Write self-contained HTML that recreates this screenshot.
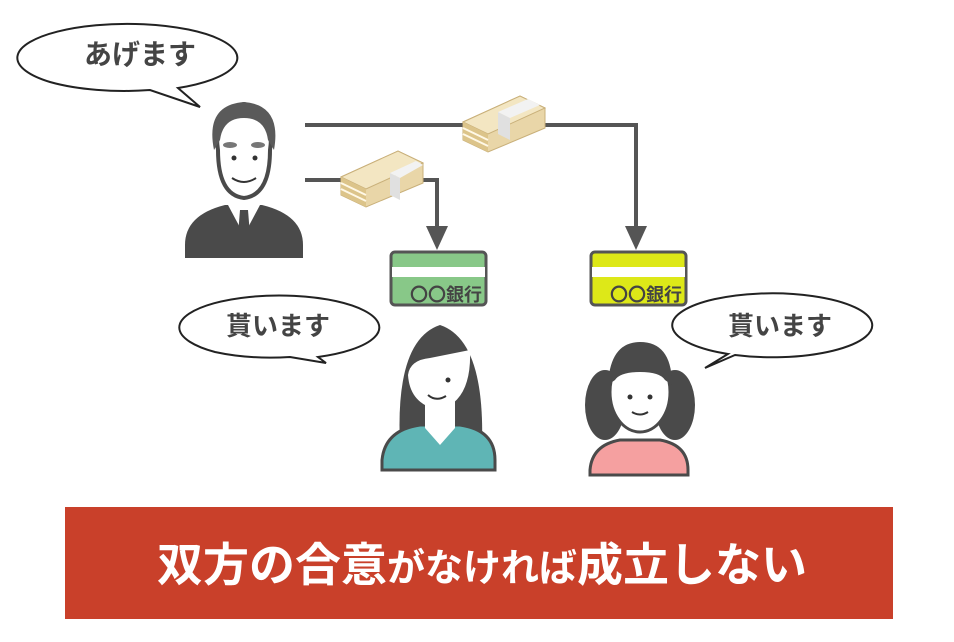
<!DOCTYPE html>
<html><head><meta charset="utf-8"><style>
html,body{margin:0;padding:0;background:#fff;}
svg{display:block}
text{font-family:"Liberation Sans","Noto Sans CJK JP",sans-serif;font-weight:bold}
</style></head><body>
<svg width="954" height="642" viewBox="0 0 954 642" xmlns="http://www.w3.org/2000/svg">
<!-- bubble 1 -->
<path d="M50,82 A110,34 0 1 1 178,88 L200,107 L150,90 A110,34 0 0 1 50,82 Z" fill="#fff" stroke="#222" stroke-width="2"/>
<text x="140" y="64" font-size="28" fill="#444" text-anchor="middle">あげます</text>
<!-- connectors -->
<g stroke="#555" stroke-width="4" fill="none">
<path d="M305,125 H636 V228"/>
<path d="M305,180 H437 V228"/>
</g>
<polygon points="426,226 448,226 437,250" fill="#555"/>
<polygon points="625,226 647,226 636,250" fill="#555"/>
<!-- money stacks -->
<g>
<polygon points="463,122 520,96 545,108 545,128 488,152 463,140" fill="#e9d6a8" stroke="#c9b07a" stroke-width="1"/>
<polygon points="463,122 520,96 545,108 488,134" fill="#f3e6c2" stroke="#c9b07a"/>
<polygon points="463,122 488,134 488,152 463,140" fill="#dcc48a"/>
<line x1="463" y1="128" x2="488" y2="140" stroke="#fff8e6" stroke-width="2"/>
<line x1="463" y1="134" x2="488" y2="146" stroke="#fff8e6" stroke-width="2"/>
<polygon points="498,112 510,118 510,140 498,134" fill="#e0e0e0"/>
<polygon points="498,112 528,99 540,105 510,118" fill="#f2f2f2"/>
</g>
<g transform="translate(-122,55)">
<polygon points="463,122 520,96 545,108 545,128 488,152 463,140" fill="#e9d6a8" stroke="#c9b07a" stroke-width="1"/>
<polygon points="463,122 520,96 545,108 488,134" fill="#f3e6c2" stroke="#c9b07a"/>
<polygon points="463,122 488,134 488,152 463,140" fill="#dcc48a"/>
<line x1="463" y1="128" x2="488" y2="140" stroke="#fff8e6" stroke-width="2"/>
<line x1="463" y1="134" x2="488" y2="146" stroke="#fff8e6" stroke-width="2"/>
<polygon points="512,118 522,123 522,145 512,140" fill="#e0e0e0"/>
<polygon points="512,118 538,106 545,110 522,123" fill="#f2f2f2"/>
</g>
<!-- bank cards -->
<g>
<rect x="391" y="252" width="95" height="53" rx="4" fill="#88c888" stroke="#555" stroke-width="3"/>
<rect x="392" y="267" width="93" height="10" fill="#fff"/>
<text x="482" y="301" font-size="18" fill="#444" text-anchor="end">〇〇銀行</text>
<rect x="591" y="252" width="95" height="53" rx="4" fill="#dde818" stroke="#555" stroke-width="3"/>
<rect x="592" y="267" width="93" height="10" fill="#fff"/>
<text x="682" y="301" font-size="18" fill="#444" text-anchor="end">〇〇銀行</text>
</g>
<!-- man -->
<g>
<path d="M185,245 Q185,215 225,205 L262,205 Q303,215 303,245 L303,258 L185,258 Z" fill="#4a4a4a"/>
<polygon points="228,205 260,205 244,235" fill="#fff"/>
<polygon points="240,210 248,210 250,235 244,240 238,235" fill="#4a4a4a"/>
<path d="M218,150 Q212,110 244,104 Q276,110 270,150 Q270,195 244,198 Q218,195 218,150 Z" fill="#fff" stroke="#4a4a4a" stroke-width="4"/>
<path d="M214,150 Q205,105 244,102 Q282,105 274,150 L268,140 Q265,118 244,118 Q223,118 220,140 Z" fill="#5a5a5a"/>
<ellipse cx="230" cy="145" rx="7" ry="3" fill="#777"/><ellipse cx="258" cy="145" rx="7" ry="3" fill="#777"/>
<circle cx="234" cy="158" r="2.5" fill="#333"/><circle cx="255" cy="158" r="2.5" fill="#333"/>
<path d="M232,178 Q244,186 256,178" stroke="#333" stroke-width="2" fill="none"/>
</g>
<!-- bubble 2 -->
<path d="M215,352 A100,32 0 1 1 318,357 L326,363 L290,357 A100,32 0 0 1 215,352 Z" fill="#fff" stroke="#222" stroke-width="2"/>
<text x="278" y="335" font-size="26" fill="#444" text-anchor="middle">貰います</text>
<!-- bubble 3 -->
<path d="M735,355 A100,32 0 1 0 728,354 L705,368 L735,355 Z" fill="#fff" stroke="#222" stroke-width="2"/>
<text x="780" y="335" font-size="26" fill="#444" text-anchor="middle">貰います</text>
<!-- woman -->
<g>
<path d="M400,445 Q395,340 440,325 Q485,340 482,445 Z" fill="#4a4a4a"/>
<path d="M382,460 Q385,430 420,425 L460,425 Q495,430 495,460 L495,470 L382,470 Z" fill="#5fb5b5" stroke="#4a4a4a" stroke-width="3"/>
<path d="M425,400 L425,428 L440,445 L455,428 L455,400 Z" fill="#fff"/>
<path d="M408,375 Q410,360 430,358 L470,350 Q472,400 440,410 Q410,405 408,375 Z" fill="#fff"/>
<circle cx="448" cy="380" r="2.5" fill="#333"/>
<path d="M428,395 Q436,402 446,396" stroke="#333" stroke-width="2" fill="none"/>
</g>
<!-- girl -->
<g>
<ellipse cx="605" cy="405" rx="20" ry="35" fill="#4a4a4a"/>
<ellipse cx="675" cy="405" rx="20" ry="35" fill="#4a4a4a"/>
<path d="M590,470 Q592,445 620,440 L660,440 Q688,445 688,470 L688,475 L590,475 Z" fill="#f5a0a0" stroke="#4a4a4a" stroke-width="3"/>
<ellipse cx="640" cy="392" rx="30" ry="40" fill="#fff" stroke="#4a4a4a" stroke-width="3"/>
<path d="M608,385 Q610,342 640,342 Q672,342 672,385 L665,380 Q660,372 640,372 Q620,372 615,380 Z" fill="#4a4a4a"/>
<circle cx="630" cy="397" r="2.5" fill="#333"/><circle cx="650" cy="397" r="2.5" fill="#333"/>
<path d="M632,412 Q640,417 648,412" stroke="#333" stroke-width="2" fill="none"/>
</g>
<!-- banner -->
<rect x="65" y="507" width="828" height="112" fill="#c9402a"/>
<text x="157" y="581" fill="#fff"><tspan font-size="46">双方の合意</tspan><tspan font-size="38">がなければ</tspan><tspan font-size="46">成立しない</tspan></text>
</svg>
</body></html>
